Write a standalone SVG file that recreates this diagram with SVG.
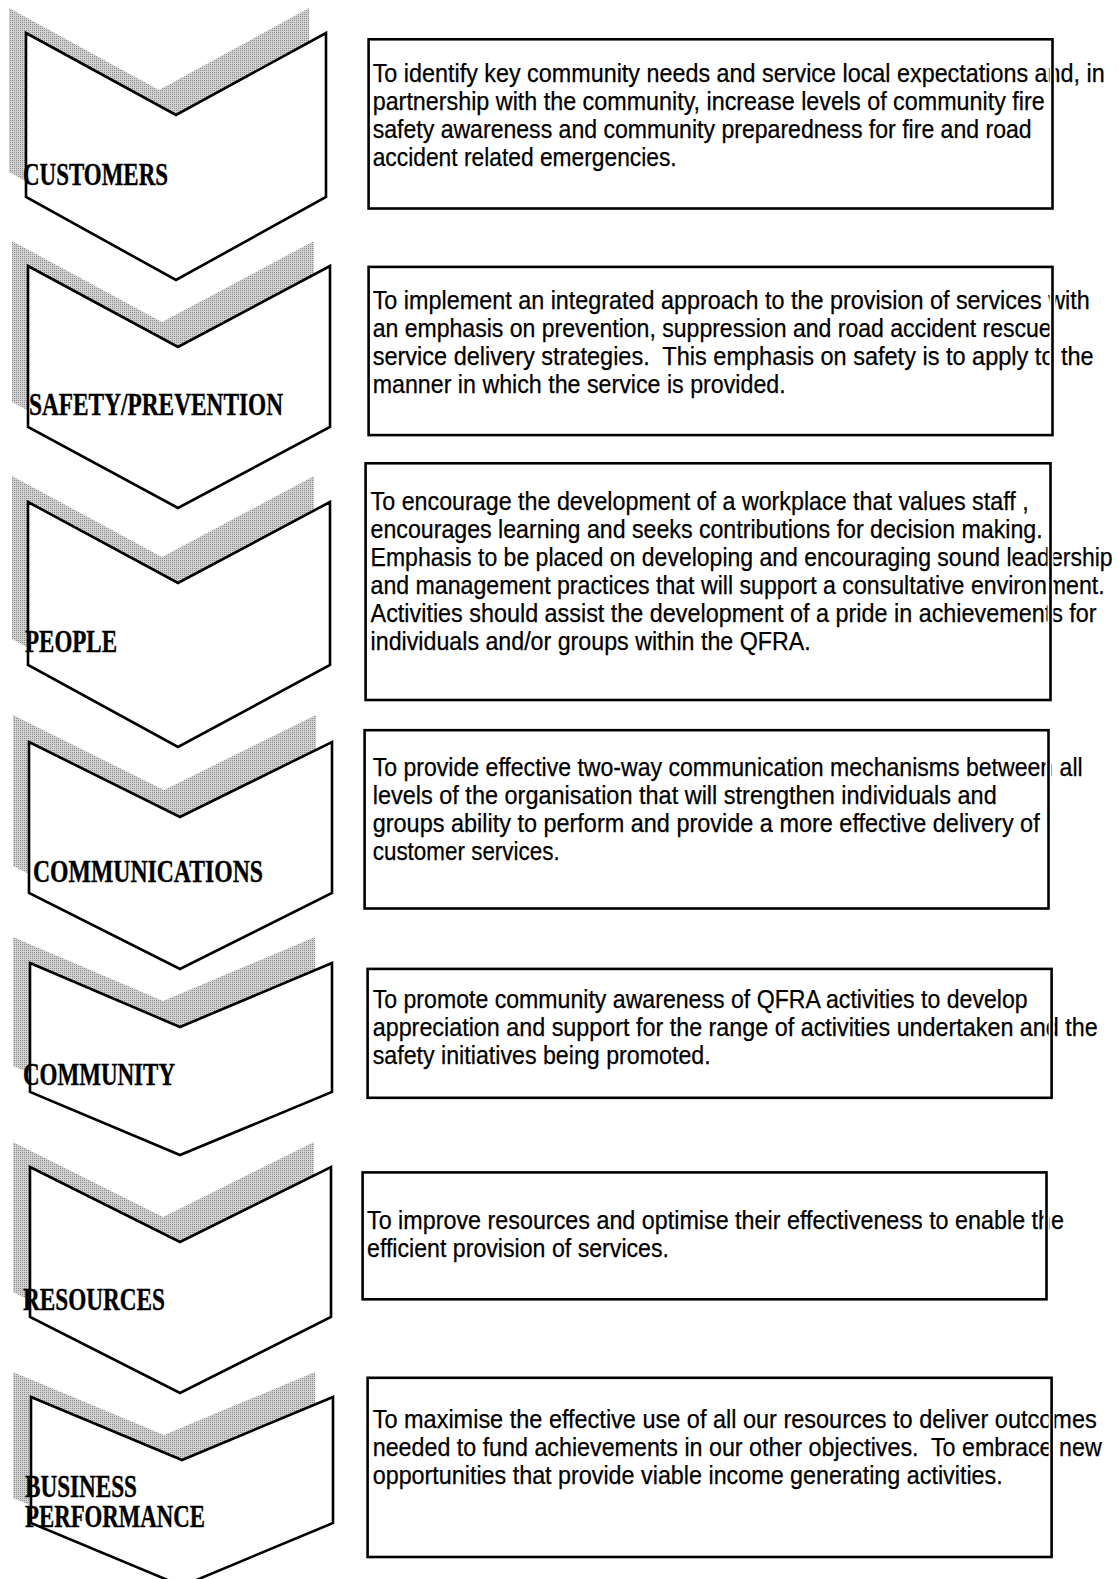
<svg xmlns="http://www.w3.org/2000/svg" width="1119" height="1579" viewBox="0 0 1119 1579">
<style>
.chev{fill:#fff;stroke:#000;stroke-width:2.6;stroke-linejoin:miter}
.shadow{fill:url(#dots);stroke:none}
.lbl{font-family:"Liberation Serif","Times New Roman",serif;font-weight:bold;font-size:31px;fill:#000;stroke:#000;stroke-width:0.4}
.txt{font-family:"Liberation Sans",Arial,sans-serif;font-size:25px;fill:#000;stroke:#000;stroke-width:0.25;white-space:pre}
.boxw{fill:none;stroke:#fff;stroke-width:6}
.box{fill:none;stroke:#000;stroke-width:2.6}
</style>
<defs>
<pattern id="dots" width="2" height="2" patternUnits="userSpaceOnUse">
<rect width="2" height="2" fill="#d2d2d2"/>
<rect x="0" y="0" width="1" height="1" fill="#8c8c8c"/>
</pattern>
</defs>
<rect width="1119" height="1579" fill="#fff"/>

<g id="shadows">
<polygon class="shadow" points="9,8 159,90 309,8 309,172 159,255 9,172"/>
<polygon class="shadow" points="12,241 162,322 314,241 314,402 162,483 12,402"/>
<polygon class="shadow" points="12,476 162,557 314,476 314,639 162,721 12,639"/>
<polygon class="shadow" points="13,715 164,790 316,715 316,866 164,942 13,866"/>
<polygon class="shadow" points="13,937 163,1001 315,937 315,1066 163,1129 13,1066"/>
<polygon class="shadow" points="13,1142 163,1217 314,1142 314,1292 163,1368 13,1292"/>
<polygon class="shadow" points="13,1372 164,1435 315,1372 315,1498 164,1561 13,1498"/>
</g>

<g id="chevron-customers">
<polygon class="chev" points="26,33 176,115 326,33 326,197 176,280 26,197"/>
<text class="lbl" x="23" y="185" textLength="145" lengthAdjust="spacingAndGlyphs">CUSTOMERS</text>
</g>
<g id="chevron-safety">
<polygon class="chev" points="28,266 178,347 330,266 330,427 178,508 28,427"/>
<text class="lbl" x="29" y="415" textLength="254" lengthAdjust="spacingAndGlyphs">SAFETY/PREVENTION</text>
</g>
<g id="chevron-people">
<polygon class="chev" points="28,502 178,583 330,502 330,665 178,747 28,665"/>
<text class="lbl" x="25" y="652" textLength="92" lengthAdjust="spacingAndGlyphs">PEOPLE</text>
</g>
<g id="chevron-communications">
<polygon class="chev" points="29,742 180,817 332,742 332,893 180,969 29,893"/>
<text class="lbl" x="33" y="882" textLength="230" lengthAdjust="spacingAndGlyphs">COMMUNICATIONS</text>
</g>
<g id="chevron-community">
<polygon class="chev" points="30,963 180,1027 332,963 332,1092 180,1155 30,1092"/>
<text class="lbl" x="23" y="1085" textLength="152" lengthAdjust="spacingAndGlyphs">COMMUNITY</text>
</g>
<g id="chevron-resources">
<polygon class="chev" points="30,1167 180,1242 331,1167 331,1317 180,1393 30,1317"/>
<text class="lbl" x="23" y="1310" textLength="142" lengthAdjust="spacingAndGlyphs">RESOURCES</text>
</g>
<g id="chevron-business">
<polygon class="chev" points="31,1397 182,1460 333,1397 333,1523 182,1586 31,1523"/>
<text class="lbl" x="25" y="1497" textLength="112" lengthAdjust="spacingAndGlyphs">BUSINESS</text>
<text class="lbl" x="25" y="1527" textLength="180" lengthAdjust="spacingAndGlyphs">PERFORMANCE</text>
</g>

<g id="box-customers">
<text class="txt" x="372.7" y="82" textLength="732" lengthAdjust="spacingAndGlyphs">To identify key community needs and service local expectations and, in</text>
<text class="txt" x="372.7" y="110" textLength="672" lengthAdjust="spacingAndGlyphs">partnership with the community, increase levels of community fire</text>
<text class="txt" x="372.7" y="138" textLength="659" lengthAdjust="spacingAndGlyphs">safety awareness and community preparedness for fire and road</text>
<text class="txt" x="372.7" y="166" textLength="304" lengthAdjust="spacingAndGlyphs">accident related emergencies.</text>
<rect class="boxw" x="368.6" y="39.3" width="683.9" height="169.2"/>
<rect class="box" x="368.6" y="39.3" width="683.9" height="169.2"/>
</g>
<g id="box-safety">
<text class="txt" x="372.7" y="309" textLength="717" lengthAdjust="spacingAndGlyphs">To implement an integrated approach to the provision of services with</text>
<text class="txt" x="372.7" y="337" textLength="679" lengthAdjust="spacingAndGlyphs">an emphasis on prevention, suppression and road accident rescue</text>
<text class="txt" x="372.7" y="365" textLength="721" lengthAdjust="spacingAndGlyphs">service delivery strategies.  This emphasis on safety is to apply to the</text>
<text class="txt" x="372.7" y="393" textLength="413" lengthAdjust="spacingAndGlyphs">manner in which the service is provided.</text>
<rect class="boxw" x="368.6" y="266.9" width="683.9" height="168.2"/>
<rect class="box" x="368.6" y="266.9" width="683.9" height="168.2"/>
</g>
<g id="box-people">
<text class="txt" x="370.6" y="510" textLength="658" lengthAdjust="spacingAndGlyphs">To encourage the development of a workplace that values staff ,</text>
<text class="txt" x="370.6" y="538" textLength="672" lengthAdjust="spacingAndGlyphs">encourages learning and seeks contributions for decision making.</text>
<text class="txt" x="370.6" y="566" textLength="742" lengthAdjust="spacingAndGlyphs">Emphasis to be placed on developing and encouraging sound leadership</text>
<text class="txt" x="370.6" y="594" textLength="734" lengthAdjust="spacingAndGlyphs">and management practices that will support a consultative environment.</text>
<text class="txt" x="370.6" y="622" textLength="726" lengthAdjust="spacingAndGlyphs">Activities should assist the development of a pride in achievements for</text>
<text class="txt" x="370.6" y="650" textLength="440" lengthAdjust="spacingAndGlyphs">individuals and/or groups within the QFRA.</text>
<rect class="boxw" x="365.6" y="463.3" width="684.9" height="236.7"/>
<rect class="box" x="365.6" y="463.3" width="684.9" height="236.7"/>
</g>
<g id="box-communications">
<text class="txt" x="372.7" y="776" textLength="710" lengthAdjust="spacingAndGlyphs">To provide effective two-way communication mechanisms between all</text>
<text class="txt" x="372.7" y="804" textLength="624" lengthAdjust="spacingAndGlyphs">levels of the organisation that will strengthen individuals and</text>
<text class="txt" x="372.7" y="832" textLength="667" lengthAdjust="spacingAndGlyphs">groups ability to perform and provide a more effective delivery of</text>
<text class="txt" x="372.7" y="860" textLength="187" lengthAdjust="spacingAndGlyphs">customer services.</text>
<rect class="boxw" x="364.6" y="730.2" width="683.9" height="178.3"/>
<rect class="box" x="364.6" y="730.2" width="683.9" height="178.3"/>
</g>
<g id="box-community">
<text class="txt" x="372.7" y="1008" textLength="655" lengthAdjust="spacingAndGlyphs">To promote community awareness of QFRA activities to develop</text>
<text class="txt" x="372.7" y="1036" textLength="725" lengthAdjust="spacingAndGlyphs">appreciation and support for the range of activities undertaken and the</text>
<text class="txt" x="372.7" y="1064" textLength="338" lengthAdjust="spacingAndGlyphs">safety initiatives being promoted.</text>
<rect class="boxw" x="367.6" y="968.9" width="684" height="128.9"/>
<rect class="box" x="367.6" y="968.9" width="684" height="128.9"/>
</g>
<g id="box-resources">
<text class="txt" x="367" y="1229" textLength="697" lengthAdjust="spacingAndGlyphs">To improve resources and optimise their effectiveness to enable the</text>
<text class="txt" x="367" y="1257" textLength="302" lengthAdjust="spacingAndGlyphs">efficient provision of services.</text>
<rect class="boxw" x="362.6" y="1172.4" width="683.9" height="126.9"/>
<rect class="box" x="362.6" y="1172.4" width="683.9" height="126.9"/>
</g>
<g id="box-business">
<text class="txt" x="372.7" y="1428" textLength="724" lengthAdjust="spacingAndGlyphs">To maximise the effective use of all our resources to deliver outcomes</text>
<text class="txt" x="372.7" y="1456" textLength="729" lengthAdjust="spacingAndGlyphs">needed to fund achievements in our other objectives.  To embrace new</text>
<text class="txt" x="372.7" y="1484" textLength="630" lengthAdjust="spacingAndGlyphs">opportunities that provide viable income generating activities.</text>
<rect class="boxw" x="367.6" y="1377.8" width="684" height="179.2"/>
<rect class="box" x="367.6" y="1377.8" width="684" height="179.2"/>
</g>
</svg>
